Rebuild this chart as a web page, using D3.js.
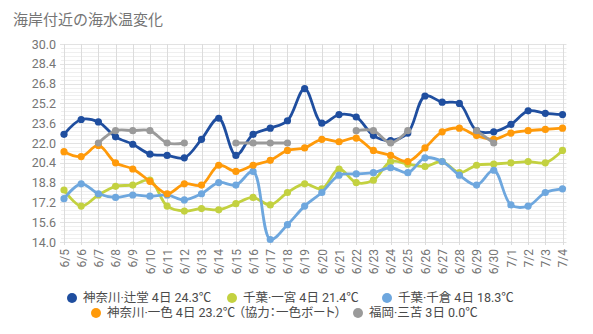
<!DOCTYPE html>
<html>
<head>
<meta charset="utf-8">
<script src="https://cdn.jsdelivr.net/npm/d3@7"></script>
<style>
  html, body { margin: 0; padding: 0; background: #fff; }
  svg { display: block; font-family: Roboto, "Noto Sans CJK JP", "Noto Sans", sans-serif; }
  .legend text { font-feature-settings: "palt" 1; }
</style>
</head>
<body>
<svg id="chart" width="593" height="334"></svg>
<script>
// Dates along the x axis
const dates = ["6/5","6/6","6/7","6/8","6/9","6/10","6/11","6/12","6/13","6/14",
  "6/15","6/16","6/17","6/18","6/19","6/20","6/21","6/22","6/23","6/24",
  "6/25","6/26","6/27","6/28","6/29","6/30","7/1","7/2","7/3","7/4"];

// Sea water temperature (℃) per station
const tsujido = [22.7,23.9,23.7,22.5,21.9,21.1,21.0,20.8,22.3,24.0,
  21.0,22.7,23.2,23.8,26.4,23.6,24.3,24.1,22.6,22.2,
  22.8,25.8,25.3,25.2,23.0,22.9,23.5,24.6,24.4,24.3];
const ichinomiya = [18.2,16.9,17.8,18.5,18.6,19.0,16.9,16.5,16.7,16.6,
  17.1,17.6,17.0,18.0,18.7,18.3,19.9,18.8,19.0,20.5,
  20.3,20.1,20.5,19.6,20.2,20.3,20.4,20.5,20.4,21.4];
const chikura = [17.5,18.7,17.9,17.6,17.8,17.7,17.8,17.4,17.9,18.8,
  18.6,19.7,14.2,15.4,16.9,18.0,19.4,19.5,19.6,20.0,
  19.6,20.8,20.5,19.4,18.6,19.8,17.0,16.9,18.0,18.3];
const isshiki = [21.3,20.9,21.8,20.4,19.9,18.9,17.9,18.7,18.6,20.2,
  19.7,20.2,20.6,21.4,21.6,22.3,22.1,22.4,21.4,21.0,
  20.5,21.6,22.9,23.2,22.6,22.3,22.8,23.0,23.1,23.2];
const mitoma = [null,null,22.0,23.0,23.0,23.0,22.0,22.0,null,null,
  22.0,22.0,22.0,22.0,null,null,null,23.0,23.0,22.0,
  23.0,null,null,null,23.0,22.0,null,null,null,null];

// Y axis tick labels
const yTicks = [14.0,15.6,17.2,18.8,20.4,22.0,23.6,25.2,26.8,28.4,30.0];

// Series names shown in the legend
const seriesNames = [
  "神奈川·辻堂 4日 24.3℃",
  "千葉·一宮 4日 21.4℃",
  "千葉·千倉 4日 18.3℃",
  "神奈川·一色 4日 23.2℃ （協力：一色ボート）",
  "福岡·三苫 3日 0.0℃"
];
const seriesValues = [tsujido, ichinomiya, chikura, isshiki, mitoma];
const colors = ["#1f4e9f", "#c3d140", "#6ea7de", "#ff9a0a", "#9a9a9a"];

const svg = d3.select("#chart");
const plotLeft = 64, plotRight = 562.5, plotTop = 44, plotBottom = 242;

const x = d3.scalePoint().domain(dates).range([plotLeft, plotRight]);
const y = d3.scaleLinear().domain([14, 30]).range([plotBottom, plotTop]);

// Title
svg.append("text")
  .attr("x", 13).attr("y", 25)
  .attr("font-size", 15).attr("fill", "#757575")
  .text("海岸付近の海水温変化");

// Minor horizontal gridlines (4 between each labelled tick)
const grid = svg.append("g");
const minor = [];
for (let i = 0; i < yTicks.length - 1; i++) {
  for (let k = 1; k < 5; k++) minor.push(yTicks[i] + (yTicks[i + 1] - yTicks[i]) * k / 5);
}
grid.selectAll("line.minor").data(minor).join("line")
  .attr("x1", plotLeft - 3).attr("x2", plotRight + 4)
  .attr("y1", d => Math.round(y(d)) + 0.5).attr("y2", d => Math.round(y(d)) + 0.5)
  .attr("stroke", "#efefef").attr("stroke-width", 1);
grid.selectAll("line.major").data(yTicks).join("line")
  .attr("x1", plotLeft - 4).attr("x2", plotRight + 4)
  .attr("y1", d => Math.round(y(d)) + 0.5).attr("y2", d => Math.round(y(d)) + 0.5)
  .attr("stroke", "#e2e2e2").attr("stroke-width", 1);

// Vertical gridlines at each date
grid.selectAll("line.v").data(dates).join("line")
  .attr("x1", d => Math.round(x(d)) + 0.5).attr("x2", d => Math.round(x(d)) + 0.5)
  .attr("y1", plotTop).attr("y2", plotBottom + 3)
  .attr("stroke", "#dcdcdc").attr("stroke-width", 1);

// Y axis labels
const yAxis = d3.axisLeft(y).tickValues(yTicks).tickFormat(d3.format(".1f")).tickSize(0).tickPadding(0);
svg.append("g")
  .attr("transform", `translate(${plotLeft - 8},0)`)
  .call(yAxis)
  .call(g => g.select(".domain").remove())
  .call(g => g.selectAll("text").attr("font-size", 12.5).attr("fill", "#757575")
    .attr("font-family", "Roboto, sans-serif"));

// X axis labels, rotated
const xAxis = d3.axisBottom(x).tickSize(0).tickPadding(0);
svg.append("g")
  .attr("transform", `translate(0,${plotBottom + 7})`)
  .call(xAxis)
  .call(g => g.select(".domain").remove())
  .call(g => g.selectAll("text")
    .attr("font-size", 12).attr("fill", "#757575")
    .attr("font-family", "Roboto, sans-serif")
    .attr("text-anchor", "end")
    .attr("dy", "0.35em")
    .attr("transform", "rotate(-90)")
    .attr("x", 0).attr("y", 0));

// Series lines and points
const line = d3.line()
  .defined(d => d.v !== null)
  .x(d => x(d.date))
  .y(d => y(d.v))
  .curve(d3.curveCatmullRom.alpha(0.5));

const plot = svg.append("g");
seriesValues.forEach((vals, i) => {
  const pts = vals.map((v, j) => ({ date: dates[j], v }));
  plot.append("path")
    .datum(pts)
    .attr("d", line)
    .attr("fill", "none")
    .attr("stroke", colors[i])
    .attr("stroke-width", 2.8)
    .attr("stroke-linejoin", "round");
  plot.append("g").selectAll("circle")
    .data(pts.filter(d => d.v !== null))
    .join("circle")
    .attr("cx", d => x(d.date)).attr("cy", d => y(d.v))
    .attr("r", 3.6)
    .attr("fill", colors[i]);
});

// Legend: marker positions for the two rows
const legendSlots = [
  { x: 72, y: 298 }, { x: 232, y: 298 }, { x: 387, y: 298 },
  { x: 96, y: 313 }, { x: 358, y: 313 }
];
const legend = svg.append("g").attr("class", "legend");
seriesNames.forEach((name, i) => {
  const it = legend.append("g")
    .attr("transform", `translate(${legendSlots[i].x},${legendSlots[i].y})`);
  it.append("circle").attr("r", 5).attr("fill", colors[i]);
  it.append("text")
    .attr("x", 11).attr("dy", "0.35em")
    .attr("font-size", 12.5).attr("fill", "#4a4a4a")
    .text(name);
});
</script>
</body>
</html>
